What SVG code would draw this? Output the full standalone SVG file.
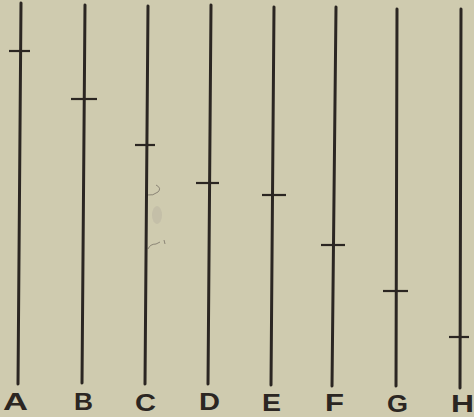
<svg xmlns="http://www.w3.org/2000/svg" width="474" height="417" viewBox="0 0 474 417">
  <style>
    .rod { stroke: #2b2622; stroke-width: 3; stroke-linecap: round; fill: none; }
    .tick { stroke: #2b2622; stroke-width: 2.2; stroke-linecap: butt; fill: none; }
    .lbl { font-family: "Liberation Sans", "DejaVu Sans", sans-serif; font-size: 23px; font-weight: bold; fill: #2b2622; }
    .mark { stroke: #6e665c; stroke-width: 1; fill: none; opacity: 0.7; }
  </style>
  <rect x="0" y="0" width="474" height="417" fill="#cfcbaf"/>
  <g id="connectors">
    <path class="mark" d="M156,185 Q162,188 158,192 Q153,196 147,195"/>
    <path class="mark" d="M148,249 Q150,244 156,244 L160,242 M164,240 L165,244"/>
    <ellipse cx="157" cy="215" rx="5" ry="9" fill="#bdb8a3" opacity="0.6"/>
  </g>
  <g id="A">
    <line class="rod" x1="21" y1="3" x2="18" y2="384"/>
    <line class="tick" x1="9" y1="51" x2="30" y2="51"/>
    <text class="lbl" x="3" y="410" textLength="25" lengthAdjust="spacingAndGlyphs">A</text>
  </g>
  <g id="B">
    <line class="rod" x1="85" y1="5" x2="82" y2="383"/>
    <line class="tick" x1="71" y1="99" x2="97" y2="99"/>
    <text class="lbl" x="74" y="410" textLength="19" lengthAdjust="spacingAndGlyphs">B</text>
  </g>
  <g id="C">
    <line class="rod" x1="148" y1="6" x2="145" y2="384"/>
    <line class="tick" x1="135" y1="145" x2="155" y2="145"/>
    <text class="lbl" x="135" y="411" textLength="21" lengthAdjust="spacingAndGlyphs">C</text>
  </g>
  <g id="D">
    <line class="rod" x1="211" y1="5" x2="208" y2="384"/>
    <line class="tick" x1="196" y1="183" x2="219" y2="183"/>
    <text class="lbl" x="199" y="410" textLength="21" lengthAdjust="spacingAndGlyphs">D</text>
  </g>
  <g id="E">
    <line class="rod" x1="274" y1="7" x2="271" y2="385"/>
    <line class="tick" x1="262" y1="195" x2="286" y2="195"/>
    <text class="lbl" x="262" y="411" textLength="19" lengthAdjust="spacingAndGlyphs">E</text>
  </g>
  <g id="F">
    <line class="rod" x1="336" y1="7" x2="332" y2="386"/>
    <line class="tick" x1="321" y1="245" x2="345" y2="245"/>
    <text class="lbl" x="325" y="411" textLength="19" lengthAdjust="spacingAndGlyphs">F</text>
  </g>
  <g id="G">
    <line class="rod" x1="397" y1="9" x2="396" y2="386"/>
    <line class="tick" x1="383" y1="291" x2="408" y2="291"/>
    <text class="lbl" x="387" y="412" textLength="21" lengthAdjust="spacingAndGlyphs">G</text>
  </g>
  <g id="H">
    <line class="rod" x1="461" y1="9" x2="460" y2="388"/>
    <line class="tick" x1="449" y1="337" x2="469" y2="337"/>
    <text class="lbl" x="451" y="412" textLength="23" lengthAdjust="spacingAndGlyphs">H</text>
  </g>
</svg>
